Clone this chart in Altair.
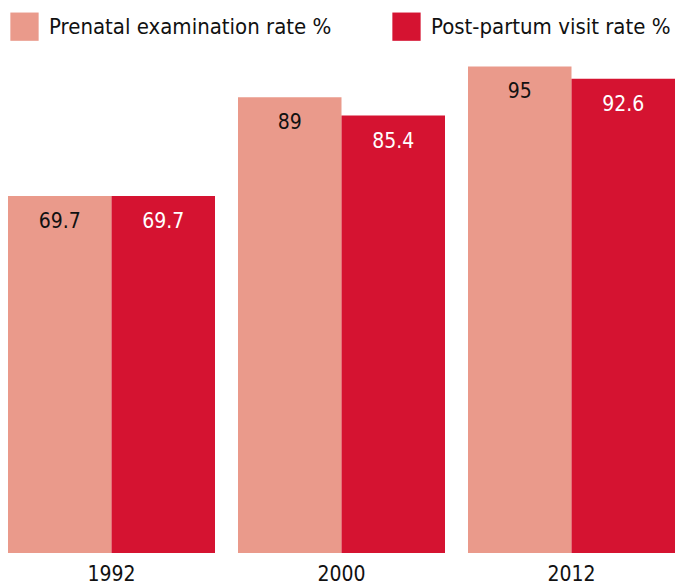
import altair as alt
import pandas as pd

years = ["1992", "2000", "2012"]
series = ["Prenatal examination rate %", "Post-partum visit rate %"]
prenatal = [69.7, 89, 95]
postpartum = [69.7, 85.4, 92.6]
colors = ["#EA9A8B", "#D51331"]
text_colors = ["#111111", "#FFFFFF"]

rows = []
for i, y in enumerate(years):
    rows.append({"year": y, "series": series[0], "value": prenatal[i], "label": f"{prenatal[i]:g}"})
    rows.append({"year": y, "series": series[1], "value": postpartum[i], "label": f"{postpartum[i]:g}"})
df = pd.DataFrame(rows)

FONT = "DejaVu Sans Condensed"

x = alt.X("year:N", sort=years, title=None,
          scale=alt.Scale(paddingInner=0.1, paddingOuter=0),
          axis=alt.Axis(labelAngle=0, domain=False, ticks=False, labelFontSize=21,
                        labelFont=FONT, labelColor="#111111", labelPadding=10))
xo = alt.XOffset("series:N", sort=series, scale=alt.Scale(paddingInner=0, paddingOuter=0))
y = alt.Y("value:Q", title=None, scale=alt.Scale(domain=[0, 106.4]), axis=None)

bars = alt.Chart(df).mark_bar().encode(
    x=x, xOffset=xo, y=y,
    color=alt.Color("series:N", sort=series, scale=alt.Scale(domain=series, range=colors),
                    legend=alt.Legend(title=None, orient="none", legendX=2, legendY=4,
                                      direction="horizontal", symbolType="square",
                                      symbolSize=800, symbolStrokeWidth=0,
                                      labelFontSize=22, labelFont=FONT, labelColor="#111111",
                                      columnPadding=60, labelOffset=10, labelLimit=400)),
)

labels = alt.Chart(df).mark_text(fontSize=21, font=FONT, dy=26).encode(
    x=x, xOffset=xo, y=y,
    text="label:N",
    color=alt.Color("series:N", sort=series, scale=alt.Scale(domain=series, range=text_colors), legend=None),
)

chart = alt.layer(bars, labels).resolve_scale(color="independent").properties(
    width=667, height=545, padding={"left": 0, "top": 0, "right": 0, "bottom": 0}
).configure_view(stroke=None)

chart.save("out.html", embed_options={"renderer": "svg", "actions": False})
